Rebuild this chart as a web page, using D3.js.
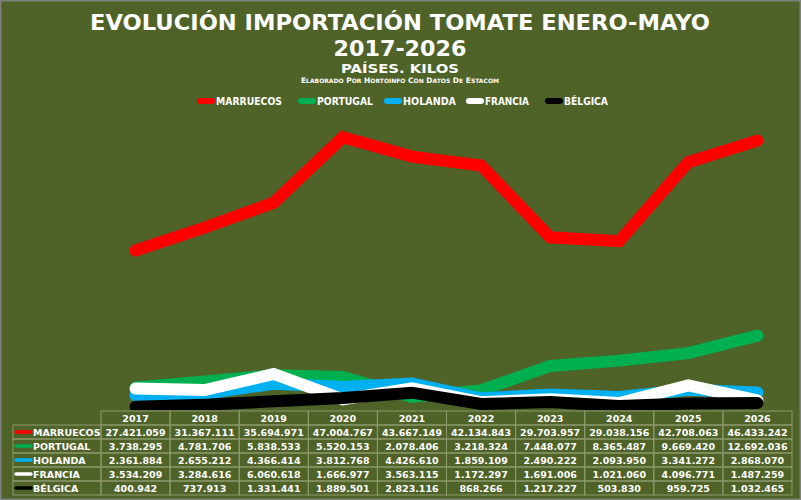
<!DOCTYPE html>
<html><head><meta charset="utf-8">
<script src="https://cdn.jsdelivr.net/npm/d3@7"></script>
<style>html,body{margin:0;padding:0;background:#4F6228;}svg{display:block;}</style>
</head><body>
<script>
const years = ["2017","2018","2019","2020","2021","2022","2023","2024","2025","2026"];
const seriesNames = ["MARRUECOS","PORTUGAL","HOLANDA","FRANCIA","BÉLGICA"];
const seriesColors = ["#FF0000","#00B050","#00B0F0","#FFFFFF","#000000"];
const marruecos = [27421059,31367111,35694971,47004767,43667149,42134843,29703957,29038156,42708063,46433242];
const portugal  = [3738295,4781706,5838533,5520153,2078406,3218324,7448077,8365487,9669420,12692036];
const holanda   = [2361884,2655212,4366414,3812768,4426610,1859109,2490222,2093950,3341272,2868070];
const francia   = [3534209,3284616,6060618,1666977,3563115,1172297,1691006,1021060,4096771,1487259];
const belgica   = [400942,737913,1331441,1889501,2823116,868266,1217227,503830,959725,1032465];
const seriesValues = [marruecos,portugal,holanda,francia,belgica];

const W=801,H=500;
const font="'DejaVu Sans', Verdana, sans-serif";
const svg=d3.select("body").append("svg").attr("width",W).attr("height",H);
svg.append("rect").attr("x",0).attr("y",0).attr("width",W).attr("height",H).attr("fill","#4F6228");

// titles
svg.append("text").attr("x",400).attr("y",30).attr("text-anchor","middle")
 .attr("font-family",font).attr("font-weight","bold").attr("font-size",21).attr("fill","#fff")
 .attr("textLength",620).attr("lengthAdjust","spacingAndGlyphs")
 .text("EVOLUCIÓN IMPORTACIÓN TOMATE ENERO-MAYO");
svg.append("text").attr("x",400).attr("y",56).attr("text-anchor","middle")
 .attr("font-family",font).attr("font-weight","bold").attr("font-size",21).attr("fill","#fff")
 .attr("textLength",133).attr("lengthAdjust","spacingAndGlyphs")
 .text("2017-2026");
svg.append("text").attr("x",400).attr("y",73).attr("text-anchor","middle")
 .attr("font-family",font).attr("font-weight","bold").attr("font-size",13).attr("fill","#fff")
 .attr("textLength",118).attr("lengthAdjust","spacingAndGlyphs")
 .text("PAÍSES. KILOS");
const sub=svg.append("text").attr("x",400).attr("y",83).attr("text-anchor","middle")
 .attr("font-family",font).attr("font-weight","bold").attr("font-size",6).attr("fill","#fff")
 .attr("textLength",198).attr("lengthAdjust","spacingAndGlyphs");
"Elaborado por hortoinfo con datos de estacom".split(" ").forEach((w,i)=>{
  sub.append("tspan").attr("font-size",7.5).text((i?" ":"")+w[0].toUpperCase());
  sub.append("tspan").attr("font-size",6).text(w.slice(1).toUpperCase());
});

// legend
const legendX=[197,298,384,466,545];
const legendTL=[66,56,53,44,44];
seriesNames.forEach((n,i)=>{
  const g=svg.append("g");
  g.append("line").attr("x1",legendX[i]+3).attr("x2",legendX[i]+15).attr("y1",101).attr("y2",101)
   .attr("stroke",seriesColors[i]).attr("stroke-width",6).attr("stroke-linecap","round");
  g.append("text").attr("x",legendX[i]+19).attr("y",105).attr("font-family",font).attr("font-weight","bold")
   .attr("font-size",10.5).attr("fill","#fff").attr("textLength",legendTL[i]).attr("lengthAdjust","spacingAndGlyphs").text(n);
});

// scales
const x=d3.scaleBand().domain(years).range([101,792]);
const y=d3.scaleLinear().domain([0,50000000]).range([409,120]);
const clip=svg.append("defs").append("clipPath").attr("id","pc");
clip.append("rect").attr("x",0).attr("y",110).attr("width",W).attr("height",300);
const line=d3.line().x((d,i)=>x(years[i])+x.bandwidth()/2).y(d=>y(d));
const pg=svg.append("g").attr("clip-path","url(#pc)");
seriesValues.forEach((vals,i)=>{
  pg.append("path").attr("d",line(vals)).attr("fill","none").attr("stroke",seriesColors[i])
   .attr("stroke-width",12).attr("stroke-linecap","round").attr("stroke-linejoin","miter");
});

// table
const gridC="#8d9a6e";
const rowTop=411,hdrH=14,rowH=14;
const tg=svg.append("g");
// header
years.forEach(yr=>{
  tg.append("rect").attr("x",x(yr)).attr("y",rowTop).attr("width",x.bandwidth()).attr("height",hdrH)
   .attr("fill","none").attr("stroke",gridC).attr("stroke-width",1);
  tg.append("text").attr("x",x(yr)+x.bandwidth()/2).attr("y",rowTop+11).attr("text-anchor","middle")
   .attr("font-family",font).attr("font-weight","bold").attr("font-size",9.5).attr("fill","#fff").text(yr);
});
const fmt=v=>d3.format(",")(v).replace(/,/g,".");
seriesNames.forEach((n,i)=>{
  const ry=rowTop+hdrH+i*rowH;
  tg.append("rect").attr("x",13).attr("y",ry).attr("width",88).attr("height",rowH)
   .attr("fill","none").attr("stroke",gridC).attr("stroke-width",1);
  tg.append("line").attr("x1",16).attr("x2",31).attr("y1",ry+7).attr("y2",ry+7)
   .attr("stroke",seriesColors[i]).attr("stroke-width",3.5).attr("stroke-linecap","round");
  tg.append("text").attr("x",33).attr("y",ry+11).attr("font-family",font).attr("font-weight","bold")
   .attr("font-size",9.5).attr("fill","#fff").text(n);
  years.forEach((yr,j)=>{
    tg.append("rect").attr("x",x(yr)).attr("y",ry).attr("width",x.bandwidth()).attr("height",rowH)
     .attr("fill","none").attr("stroke",gridC).attr("stroke-width",1);
    tg.append("text").attr("x",x(yr)+x.bandwidth()/2).attr("y",ry+11).attr("text-anchor","middle")
     .attr("font-family",font).attr("font-weight","bold").attr("font-size",9.5).attr("fill","#fff")
     .text(fmt(seriesValues[i][j]));
  });
});

// outer frame
svg.append("rect").attr("x",0.5).attr("y",0.5).attr("width",W-1).attr("height",H-1)
 .attr("fill","none").attr("stroke","#7f7f7f").attr("stroke-width",2);
</script>
</body></html>
